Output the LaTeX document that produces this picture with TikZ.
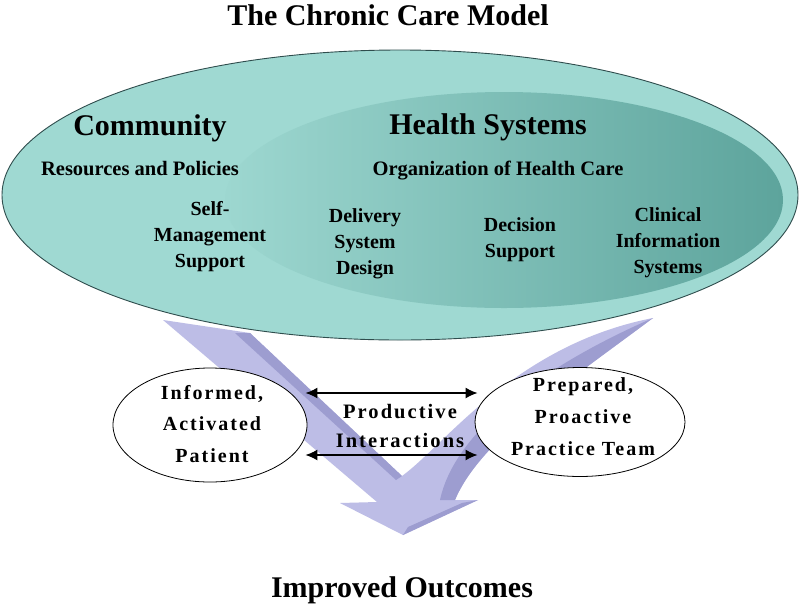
\documentclass[tikz,border=0pt]{standalone}
\usepackage{fontspec}
\setmainfont{Liberation Serif}
\newfontfamily\spaced{Liberation Serif}[LetterSpace=10]
\usetikzlibrary{shapes.geometric,arrows.meta,calc}
\definecolor{tealA}{HTML}{9FD9D2}
\definecolor{tealB}{HTML}{9DD7D0}
\definecolor{tealC}{HTML}{5DA49C}
\definecolor{lav}{HTML}{BDBDE6}
\definecolor{lavd}{HTML}{9D9DD0}
\definecolor{rim}{HTML}{2F4D4D}
\tikzset{
  big/.style={font=\bfseries\fontsize{30}{36}\selectfont, inner sep=0pt, anchor=base},
  sub/.style={font=\bfseries\fontsize{20.5}{25}\selectfont, inner sep=0pt, anchor=base},
  comp/.style={font=\bfseries\fontsize{20}{26}\selectfont, inner sep=0pt, anchor=north, align=center},
  oval/.style={ellipse, draw=black, line width=0.8pt, fill=white, inner sep=0pt},
  ovaltext/.style={font=\bfseries\spaced\fontsize{20}{31.5}\selectfont, inner sep=0pt, align=center},
  biarrow/.style={{Latex[length=12pt,width=11pt]}-{Latex[length=12pt,width=11pt]}, line width=1.6pt}
}
\begin{document}
\begin{tikzpicture}[x=1pt,y=-1pt]
\useasboundingbox (0,0) rectangle (801,606);
\fill[white] (0,0) rectangle (801,606);

% big V arrow
\fill[lav] (163,320) -- (250,333) -- (402,476)
  .. controls (445,445) and (515,345) .. (653,318)
  .. controls (570,380) and (480,440) .. (455,500)
  -- (478,500) -- (403,535) -- (340,503) -- (377,502) -- cycle;
\fill[lavd] (235,333) -- (250,333) -- (402,476) -- (396,480) -- cycle;
\fill[lavd] (653,318) .. controls (570,380) and (480,440) .. (455,500)
  -- (440,500) .. controls (455,430) and (545,365) .. (653,318) -- cycle;
\fill[lavd] (478,500) -- (403,535) -- (408,527) -- (462,503) -- cycle;

% big ellipse
\node[ellipse, draw=rim, line width=0.9pt, fill=tealA, minimum width=796pt, minimum height=290pt, inner sep=0pt] (ccm) at (400,195) {};
\node[ellipse, left color=tealB, right color=tealC, minimum width=558pt, minimum height=216pt, inner sep=0pt] (hs) at (504,200) {};

% texts
\node[big] (title) at (388,25) {The Chronic Care Model};
\node[big] (comm) at (150,135) {Community};
\node[big] (hsys) at (488,134) {Health Systems};
\node[sub] (res) at (140,175) {Resources and Policies};
\node[sub] (org) at (498,175) {Organization of Health Care};
\node[comp] (sms) at (210,201.4) {Self-\\Management\\Support};
\node[comp] (dsd) at (365,208.4) {Delivery\\System\\Design};
\node[comp] (ds) at (520,217.4) {Decision\\Support};
\node[comp] (cis) at (668,207.4) {Clinical\\Information\\Systems};

% small ellipses
\node[oval, minimum width=194pt, minimum height=114pt] (pat) at (210,425) {};
\node[oval, minimum width=210pt, minimum height=109pt] (team) at (580,422) {};
\node[ovaltext] (pattxt) at (212,424) {Informed,\\Activated\\Patient};
\node[ovaltext, font=\bfseries\spaced\fontsize{20}{32}\selectfont] (teamtxt) at (583,417) {Prepared,\\Proactive\\Practice Team};

% interactions
\draw[biarrow] ([xshift=-2pt,yshift=32pt]pat.east) -- ([xshift=3pt,yshift=29pt]team.west);
\draw[biarrow] ([xshift=-2pt,yshift=-30pt]pat.east) -- ([xshift=3pt,yshift=-33pt]team.west);
\node[comp, font=\bfseries\spaced\fontsize{20.5}{29}\selectfont] (pi) at (400,404) {Productive\\Interactions};

\node[big, font=\bfseries\fontsize{30}{34}\selectfont] (out) at (402,597) {Improved Outcomes};
\end{tikzpicture}
\end{document}
